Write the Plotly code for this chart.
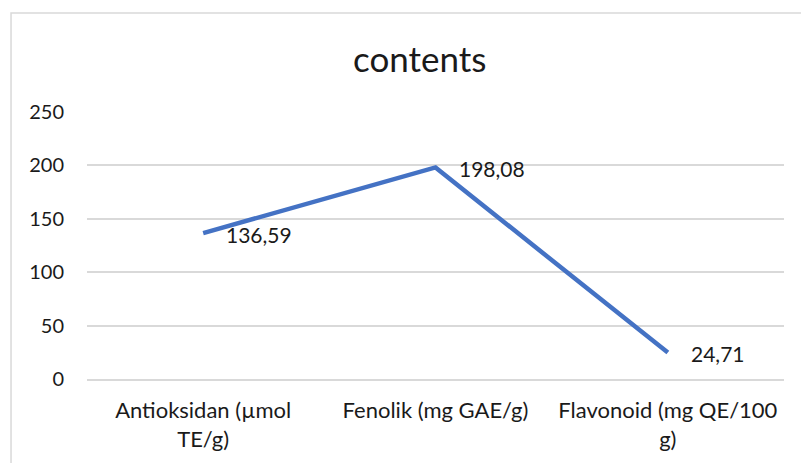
import plotly.graph_objects as go

categories = ["Antioksidan (µmol<br>TE/g)", "Fenolik (mg GAE/g)", "Flavonoid (mg QE/100<br>g)"]
values = [136.59, 198.08, 24.71]
value_labels = ["136,59", "198,08", "24,71"]
y_ticks = [0, 50, 100, 150, 200, 250]

FONT = "Lato"
TEXT = "#1a1a1a"
GRID = "#D9D9D9"

fig = go.Figure()
fig.add_trace(go.Scatter(
    x=categories, y=values, mode="lines",
    line=dict(color="#4472C4", width=4.5),
    hoverinfo="skip", showlegend=False,
))

for c, v, t in zip(categories, values, value_labels):
    fig.add_annotation(x=c, y=v, text=t, showarrow=False, xanchor="left",
                       yanchor="middle", xshift=21, yshift=-1,
                       font=dict(family=FONT, size=21, color=TEXT))

# outer chart frame
fig.add_shape(type="rect", xref="paper", yref="paper",
              x0=-0.109, x1=1.2, y0=-0.6, y1=1.371,
              line=dict(color=GRID, width=1.5), fillcolor="rgba(0,0,0,0)")

fig.update_layout(
    width=801, height=463,
    margin=dict(l=87, r=17, t=112, b=84),
    paper_bgcolor="white", plot_bgcolor="white",
    title=dict(text="contents", x=0.524, xanchor="center", y=0.872, yanchor="middle",
               font=dict(family=FONT, size=35, color=TEXT)),
    font=dict(family=FONT, size=22, color=TEXT),
    xaxis=dict(showgrid=False, showline=True, linecolor=GRID, linewidth=1.5,
               ticks="", tickfont=dict(size=22), range=[-0.5, 2.5],
               ticklabelstandoff=11),
    yaxis=dict(range=[0, 250], tickvals=y_ticks, showgrid=True, gridcolor=GRID,
               gridwidth=1.5, zeroline=False, ticks="", ticklabelstandoff=22,
               tickfont=dict(size=20)),
)

fig.write_html("out.html")
